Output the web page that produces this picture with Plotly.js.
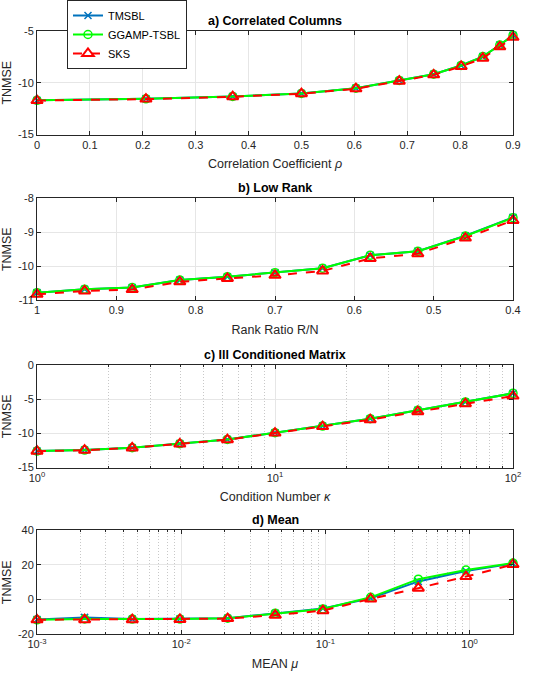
<!DOCTYPE html>
<html>
<head>
<meta charset="utf-8">
<script src="https://cdn.plot.ly/plotly-3.0.1.min.js"></script>
<style>html,body{margin:0;padding:0;background:#fff;}#chart{width:534px;height:676px;}</style>
</head>
<body>
<div id="chart"></div>
<script>
// ---- Data ----
const seriesNames = ["TMSBL", "GGAMP-TSBL", "SKS"];

// a) Correlated Columns
const rhoVals = [0, 0.206, 0.370, 0.5, 0.603, 0.685, 0.75, 0.802, 0.843, 0.875, 0.9];
const tmsblA  = [-11.70, -11.55, -11.32, -11.03, -10.52, -9.78, -9.18, -8.33, -7.48, -6.36, -5.42];
const ggampA  = [-11.70, -11.55, -11.32, -11.03, -10.52, -9.78, -9.18, -8.33, -7.48, -6.36, -5.42];
const sksA    = [-11.72, -11.58, -11.35, -11.06, -10.58, -9.85, -9.24, -8.43, -7.63, -6.54, -5.62];

// b) Low Rank
const rankVals = [1, 0.94, 0.88, 0.82, 0.76, 0.70, 0.64, 0.58, 0.52, 0.46, 0.40];
const tmsblB   = [-10.78, -10.68, -10.63, -10.41, -10.31, -10.19, -10.06, -9.68, -9.56, -9.10, -8.56];
const ggampB   = [-10.78, -10.68, -10.63, -10.41, -10.31, -10.19, -10.06, -9.68, -9.56, -9.11, -8.57];
const sksB     = [-10.83, -10.73, -10.69, -10.46, -10.36, -10.27, -10.14, -9.77, -9.63, -9.17, -8.65];

// c) Ill Conditioned Matrix
const kappaVals = [1, 1.585, 2.512, 3.981, 6.310, 10, 15.85, 25.12, 39.81, 63.10, 100];
const tmsblC    = [-12.58, -12.44, -12.10, -11.50, -10.88, -9.90, -8.93, -7.85, -6.63, -5.41, -4.15];
const ggampC    = [-12.58, -12.44, -12.10, -11.50, -10.88, -9.90, -8.93, -7.85, -6.63, -5.41, -4.15];
const sksC      = [-12.60, -12.46, -12.12, -11.55, -10.92, -9.95, -9.00, -8.00, -6.83, -5.66, -4.54];

// d) Mean
const muVals = [0.001, 0.00214, 0.00458, 0.0098, 0.021, 0.0449, 0.0961, 0.206, 0.441, 0.944, 2.0];
const tmsblD = [-11.5, -10.3, -11.3, -11.2, -10.8, -8.0, -5.2, 0.8, 10.5, 16.5, 20.8];
const ggampD = [-11.7, -11.2, -11.3, -11.3, -10.8, -7.9, -5.4, 1.3, 11.8, 17.1, 21.1];
const sksD   = [-11.7, -11.6, -11.6, -11.5, -11.0, -9.0, -6.4, 0.4, 6.6, 13.3, 20.3];

// tick values and labels
const aTicks = [0, 0.1, 0.2, 0.3, 0.4, 0.5, 0.6, 0.7, 0.8, 0.9];
const aYTicks = [-15, -10, -5];
const aYText = ["-15", "-10", "-5"];
const bTicks = [1, 0.9, 0.8, 0.7, 0.6, 0.5, 0.4];
const bYTicks = [-11, -10, -9, -8];
const bYText = ["-11", "-10", "-9", "-8"];
const cTicks = [1, 10, 100];
const cTickText = ["10<sup>0</sup>", "10<sup>1</sup>", "10<sup>2</sup>"];
const cYTicks = [-15, -10, -5, 0];
const cYText = ["-15", "-10", "-5", "0"];
const dTicks = [0.001, 0.01, 0.1, 1];
const dTickText = ["10<sup>-3</sup>", "10<sup>-2</sup>", "10<sup>-1</sup>", "10<sup>0</sup>"];
const dYTicks = [-20, 0, 20, 40];
const dYText = ["-20", "0", "20", "40"];

const panelTitles = ["a) Correlated Columns", "b) Low Rank", "c) Ill Conditioned Matrix", "d) Mean"];
const xTitles = ["Correlation Coefficient <i>ρ</i>", "Rank Ratio R/N", "Condition Number <i>κ</i>", "MEAN <i>μ</i>"];

// ---- Styles ----
const BLUE = "#0072BD", GREEN = "#00FF00", RED = "#FF0000", AX = "#262626";
const FONT = "Liberation Sans, Arial, Helvetica, sans-serif";

function traces(x, t, g, s, ax, showLeg) {
  const xa = ax === 1 ? "x" : "x" + ax, ya = ax === 1 ? "y" : "y" + ax;
  return [
    {x: x, y: t, xaxis: xa, yaxis: ya, name: seriesNames[0], type: "scatter", mode: "lines+markers",
     line: {color: BLUE, width: 2}, marker: {symbol: "x-thin-open", size: 7, color: BLUE, line: {color: BLUE, width: 1.5}},
     showlegend: showLeg, cliponaxis: false},
    {x: x, y: g, xaxis: xa, yaxis: ya, name: seriesNames[1], type: "scatter", mode: "lines+markers",
     line: {color: GREEN, width: 2}, marker: {symbol: "circle-open", size: 8, color: GREEN, line: {color: GREEN, width: 1.5}},
     showlegend: showLeg, cliponaxis: false},
    {x: x, y: s, xaxis: xa, yaxis: ya, name: seriesNames[2], type: "scatter", mode: "lines+markers",
     line: {color: RED, width: 2, dash: "dash"}, marker: {symbol: "triangle-up-open", size: 10, color: RED, line: {color: RED, width: 2}},
     showlegend: showLeg, cliponaxis: false}
  ];
}

const data = [].concat(
  traces(rhoVals, tmsblA, ggampA, sksA, 1, true),
  traces(rankVals, tmsblB, ggampB, sksB, 2, false),
  traces(kappaVals, tmsblC, ggampC, sksC, 3, false),
  traces(muVals, tmsblD, ggampD, sksD, 4, false)
);

const domains = [[0.8033, 0.9571], [0.5577, 0.7086], [0.3092, 0.4615], [0.0621, 0.2160]];

function baseAxis(extra) {
  return Object.assign({
    showline: true, linecolor: AX, linewidth: 1, mirror: "ticks",
    ticks: "inside", ticklen: 4, tickcolor: AX, tickwidth: 1,
    showgrid: true, gridcolor: "#e6e6e6", gridwidth: 1,
    zeroline: false, tickfont: {family: FONT, size: 11, color: AX}
  }, extra);
}

const xTitleFont = {family: FONT, size: 12.5, color: AX};
const minorLog = {showgrid: true, griddash: "1px,2px", gridcolor: "#c8c8c8", gridwidth: 1,
                  ticks: "inside", ticklen: 2, tickcolor: AX, dtick: "D1"};

const layout = {
  width: 534, height: 676,
  margin: {l: 37, r: 21, t: 0, b: 0},
  paper_bgcolor: "#fff", plot_bgcolor: "#fff",
  font: {family: FONT, color: AX},
  showlegend: true,
  legend: {x: 0.063, y: 1.003, xanchor: "left", yanchor: "top", bgcolor: "#fff", bordercolor: AX, borderwidth: 1,
           font: {family: FONT, size: 11, color: "#000"}, tracegroupgap: 0},
  xaxis: baseAxis({domain: [0, 1], anchor: "y", range: [0, 0.9], tickvals: aTicks,
    title: {text: xTitles[0], font: xTitleFont, standoff: 9}}),
  yaxis: baseAxis({domain: domains[0], anchor: "x", range: [-15, -5], tickvals: aYTicks, ticktext: aYText,
    title: {text: "TNMSE", font: xTitleFont, standoff: 7}}),
  xaxis2: baseAxis({domain: [0, 1], anchor: "y2", range: [1, 0.4], tickvals: bTicks,
    title: {text: xTitles[1], font: xTitleFont, standoff: 9}}),
  yaxis2: baseAxis({domain: domains[1], anchor: "x2", range: [-11, -8], tickvals: bYTicks, ticktext: bYText,
    title: {text: "TNMSE", font: xTitleFont, standoff: 7}}),
  xaxis3: baseAxis({domain: [0, 1], anchor: "y3", type: "log", range: [0, 2], tickvals: cTicks, ticktext: cTickText,
    minor: minorLog, title: {text: xTitles[2], font: xTitleFont, standoff: 9}}),
  yaxis3: baseAxis({domain: domains[2], anchor: "x3", range: [-15, 0], tickvals: cYTicks, ticktext: cYText,
    title: {text: "TNMSE", font: xTitleFont, standoff: 7}}),
  xaxis4: baseAxis({domain: [0, 1], anchor: "y4", type: "log", range: [-3, 0.30103], tickvals: dTicks, ticktext: dTickText,
    minor: minorLog, title: {text: xTitles[3], font: xTitleFont, standoff: 9}}),
  yaxis4: baseAxis({domain: domains[3], anchor: "x4", range: [-20, 40], tickvals: dYTicks, ticktext: dYText,
    title: {text: "TNMSE", font: xTitleFont, standoff: 7}}),
  annotations: panelTitles.map((t, i) => ({
    text: "<b>" + t + "</b>", xref: "paper", yref: "paper", x: 0.5, y: domains[i][1],
    xanchor: "center", yanchor: "bottom", yshift: 1, showarrow: false,
    font: {family: FONT, size: 12.5, color: "#000"}
  }))
};

Plotly.newPlot("chart", data, layout, {displayModeBar: false, staticPlot: true});
</script>
</body>
</html>
